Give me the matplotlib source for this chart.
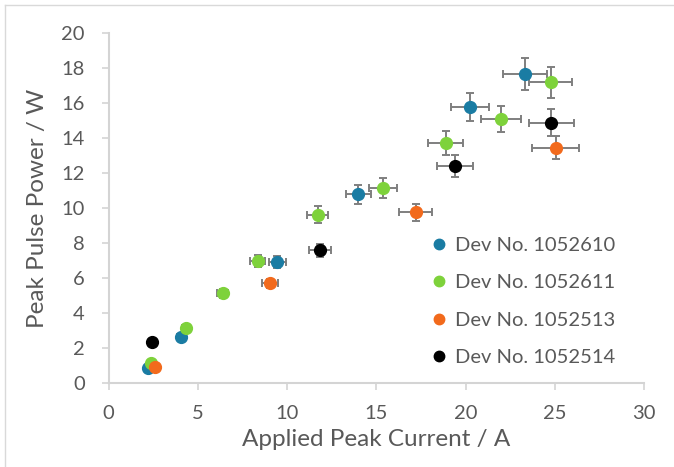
import matplotlib.pyplot as plt
from matplotlib.lines import Line2D

plt.rcParams['font.family'] = ['Lato', 'DejaVu Sans']

# peak current (A), peak pulse power (W) and their errors for each device
dev_names = ['Dev No. 1052610', 'Dev No. 1052611', 'Dev No. 1052513', 'Dev No. 1052514']
dev_colors = ['#1a7ca3', '#7ed23b', '#f26a1c', '#000000']

cur_610 = [2.19, 4.06, 9.45, 13.98, 20.23, 23.31]
pow_610 = [0.84, 2.65, 6.90, 10.80, 15.77, 17.66]
xerr_610 = [0.11, 0.20, 0.47, 0.70, 1.05, 1.22]
yerr_610 = [0.04, 0.13, 0.35, 0.54, 0.80, 0.90]

cur_611 = [2.36, 4.34, 6.39, 8.35, 11.71, 15.38, 18.89, 22.00, 24.75]
pow_611 = [1.13, 3.16, 5.13, 6.98, 9.61, 11.13, 13.71, 15.08, 17.18]
xerr_611 = [0.12, 0.22, 0.32, 0.42, 0.59, 0.77, 0.98, 1.12, 1.20]
yerr_611 = [0.06, 0.16, 0.26, 0.35, 0.48, 0.56, 0.70, 0.76, 0.86]

cur_513 = [2.60, 9.04, 17.21, 25.03]
pow_513 = [0.90, 5.69, 9.77, 13.46]
xerr_513 = [0.13, 0.45, 0.92, 1.30]
yerr_513 = [0.05, 0.28, 0.49, 0.68]

cur_514 = [2.42, 11.84, 19.39, 24.80]
pow_514 = [2.33, 7.58, 12.41, 14.89]
xerr_514 = [0.12, 0.59, 1.00, 1.26]
yerr_514 = [0.12, 0.38, 0.62, 0.75]

currents = [cur_610, cur_611, cur_513, cur_514]
powers = [pow_610, pow_611, pow_513, pow_514]
xerrs = [xerr_610, xerr_611, xerr_513, xerr_514]
yerrs = [yerr_610, yerr_611, yerr_513, yerr_514]

grey = '#595959'
axis_grey = '#d4d4d4'

fig = plt.figure(figsize=(6.74, 4.67), dpi=100)
ax = fig.add_axes([0.161, 0.18, 0.795, 0.749])

for x, y, xe, ye, c in zip(currents, powers, xerrs, yerrs, dev_colors):
    ax.errorbar(x, y, xerr=xe, yerr=ye, fmt='o', color=c, markersize=8.5,
                ecolor='#7f7f7f', elinewidth=1.4, capsize=3, capthick=1.4,
                zorder=3)

ax.set_xlim(0, 30)
ax.set_ylim(0, 20)
ax.set_xticks(range(0, 31, 5))
ax.set_yticks(range(0, 21, 2))

for side in ['top', 'right']:
    ax.spines[side].set_visible(False)
for side in ['left', 'bottom']:
    ax.spines[side].set_color(axis_grey)
    ax.spines[side].set_linewidth(1.5)
ax.tick_params(colors=axis_grey, labelcolor=grey, labelsize=14.5, length=5, width=1.2)
ax.tick_params(axis='x', pad=11)
ax.tick_params(axis='y', pad=12)

ax.set_xlabel('Applied Peak Current / A', fontsize=17.5, color=grey, labelpad=5)
ax.set_ylabel('Peak Pulse Power / W', fontsize=17.5, color=grey, labelpad=10)

handles = [Line2D([], [], marker='o', linestyle='', color=c, markersize=7.5) for c in dev_colors]
leg = ax.legend(handles, dev_names, loc='upper left', bbox_to_anchor=(0.59, 0.44),
                frameon=False, fontsize=14.5, handlelength=0.6, handletextpad=0.5,
                labelspacing=1.0, borderaxespad=0)
for t in leg.get_texts():
    t.set_color(grey)

# thin frame along the top and left of the figure
fig.add_artist(Line2D([0.007, 0.007], [0, 0.99], color='#d9d9d9', lw=1))
fig.add_artist(Line2D([0.007, 1], [0.99, 0.99], color='#d9d9d9', lw=1))

fig.savefig('out.png', dpi=100)
